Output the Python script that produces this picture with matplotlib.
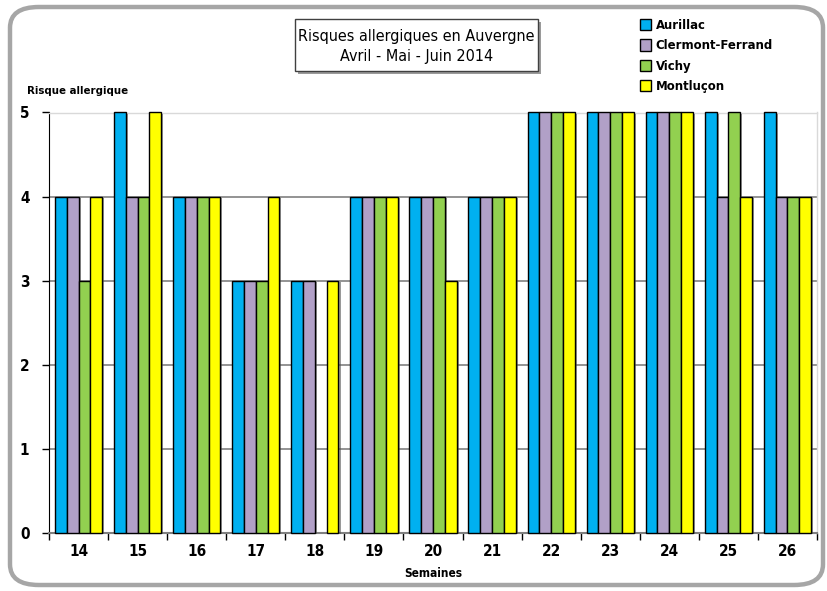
import numpy as np
import matplotlib
matplotlib.use("Agg")
import matplotlib.pyplot as plt
from matplotlib.patches import FancyBboxPatch, Rectangle
from matplotlib import patheffects as pe
from matplotlib import font_manager as fm

weeks = ["14", "15", "16", "17", "18", "19", "20", "21", "22", "23", "24", "25", "26"]
aurillac = [4, 5, 4, 3, 3, 4, 4, 4, 5, 5, 5, 5, 5]
clermont = [4, 4, 4, 3, 3, 4, 4, 4, 5, 5, 5, 4, 4]
vichy = [3, 4, 4, 3, 0, 4, 4, 4, 5, 5, 5, 5, 4]
montlucon = [4, 5, 4, 4, 3, 4, 3, 4, 5, 5, 5, 4, 4]
series_names = ["Aurillac", "Clermont-Ferrand", "Vichy", "Montluçon"]
colors = ["#00B0F0", "#B1A0C7", "#92D050", "#FFFF00"]

fam = ["DejaVu Sans"]

def fp(size, weight="normal"):
    return dict(family=fam, size=size, weight=weight, stretch="condensed")

W, H = 827, 591
fig = plt.figure(figsize=(W / 100, H / 100), dpi=100)
fig.patch.set_facecolor("white")

# rounded outer frame
frame = FancyBboxPatch((10 / W, 6 / H), 813 / W, 578 / H,
                       boxstyle="round,pad=0,rounding_size=0.035",
                       transform=fig.transFigure, facecolor="white",
                       edgecolor="#A6A6A6", linewidth=3.2, zorder=0)
fig.patches.append(frame)

ax = fig.add_axes([49 / W, (H - 533) / H, 768 / W, 420.5 / H])
ax.set_zorder(2)
ax.patch.set_alpha(0)

x = np.arange(len(weeks))
w = 0.2
data = [aurillac, clermont, vichy, montlucon]
handles = []
for i, (vals, col, name) in enumerate(zip(data, colors, series_names)):
    offs = (i - 1.5) * w
    bars = ax.bar(x + offs, vals, width=w, color=col, edgecolor="black",
                  linewidth=1.0, zorder=3, label=name)
    for b, v in zip(bars, vals):
        b.set_clip_on(False)
        if v == 0:
            b.set_visible(False)
        b.set_path_effects([pe.SimplePatchShadow(offset=(1.5, -1.0), shadow_rgbFace="#555555", alpha=0.6), pe.Normal()])
    handles.append(bars)

ax.set_xlim(-0.5, len(weeks) - 0.5)
ax.set_ylim(0, 5)
ax.set_yticks(range(6))
ax.set_yticklabels([str(v) for v in range(6)], fontdict=fp(11, "bold"))
ax.yaxis.grid(True, color="#808080", linewidth=1.2, zorder=1)
ax.set_axisbelow(True)

ax.set_xticks(x)
ax.set_xticklabels(weeks, fontdict=fp(11, "bold"))
ax.tick_params(axis="x", length=0, pad=8)
ax.set_xticks(np.arange(-0.5, len(weeks)), minor=True)
ax.tick_params(axis="x", which="minor", length=5, width=1, color="black")
ax.tick_params(axis="y", length=5, width=1, color="black", pad=9)

for s in ["top", "right"]:
    ax.spines[s].set_color("#D9D9D9")
    ax.spines[s].set_linewidth(1)
ax.spines["left"].set_color("black")
ax.spines["bottom"].set_color("#808080")
ax.spines["bottom"].set_linewidth(1.5)

ax.set_xlabel("Semaines", fontdict=fp(8.6, "bold"), labelpad=6)
fig.text(27 / W, 1 - 90.5 / H, "Risque allergique", ha="left", va="center", fontdict=fp(8.2, "bold"))

# title box with shadow
shadow = Rectangle((298 / W, 1 - 74 / H), 243 / W, 52 / H, transform=fig.transFigure,
                   facecolor="#9A9A9A", edgecolor="none", zorder=1)
fig.patches.append(shadow)
tbox = Rectangle((295 / W, 1 - 71 / H), 243 / W, 52 / H, transform=fig.transFigure,
                 facecolor="white", edgecolor="#404040", linewidth=1, zorder=2)
fig.patches.append(tbox)
fig.text(416.5 / W, 1 - 46.5 / H, "Risques allergiques en Auvergne\nAvril - Mai - Juin 2014",
         ha="center", va="center", linespacing=1.35, zorder=3, fontdict=fp(11.5))

leg = fig.legend(handles=handles, labels=series_names, loc="upper left",
                 bbox_to_anchor=(640 / W, 1 - 19 / H), frameon=False,
                 prop=fm.FontProperties(family=fam, weight="bold", size=9.4, stretch="condensed"),
                 handlelength=0.85, handleheight=0.95, handletextpad=0.35,
                 labelspacing=0.55, borderaxespad=0, borderpad=0)
for h in leg.legend_handles:
    h.set_path_effects([])

fig.savefig("out.png", dpi=100)
